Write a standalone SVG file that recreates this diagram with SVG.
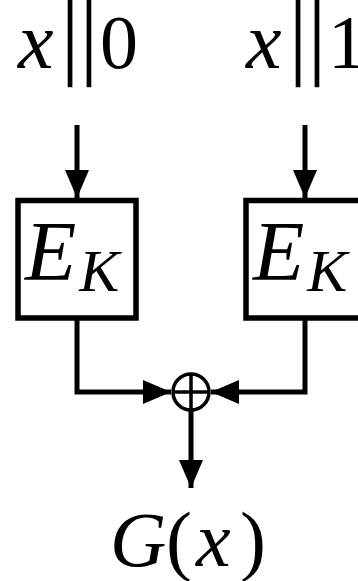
<svg xmlns="http://www.w3.org/2000/svg" width="358" height="581" viewBox="0 0 358 581">
<style>
.ln{fill:none;stroke:#000;stroke-width:5}
.box{fill:#fff;stroke:#000;stroke-width:5.5}
.t{font-family:"Liberation Serif","Times New Roman",serif;fill:#000}
.i{font-style:italic}
.bar{font-family:"DejaVu Serif",serif;fill:#000;stroke:#fff;stroke-width:3.6}
</style>
<defs>
<marker id="ah" markerUnits="userSpaceOnUse" markerWidth="30" markerHeight="26" refX="28" refY="12" orient="auto">
<path d="M0,0 L28,12 L0,24 Z" fill="#000"/>
</marker>
</defs>
<g id="label-x0">
<text class="t i" x="18" y="68" font-size="80">x</text>
<text class="bar" font-size="94" text-anchor="middle" transform="translate(79.5,67) scale(1.25,1)">‖</text>
<text class="t" x="100" y="68" font-size="76">0</text>
</g>
<g id="label-x1">
<text class="t i" x="246" y="68" font-size="80">x</text>
<text class="bar" font-size="94" text-anchor="middle" transform="translate(307.5,67) scale(1.25,1)">‖</text>
<text class="t" x="328" y="68" font-size="76">1</text>
</g>
<g id="connectors">
<line class="ln" x1="77" y1="125" x2="77" y2="198" marker-end="url(#ah)"/>
<line class="ln" x1="305" y1="125" x2="305" y2="198" marker-end="url(#ah)"/>
<polyline class="ln" points="77,318 77,392 171,392" marker-end="url(#ah)"/>
<polyline class="ln" points="305,318 305,392 211,392" marker-end="url(#ah)"/>
<line class="ln" x1="191" y1="392" x2="191" y2="488" marker-end="url(#ah)"/>
</g>
<g id="box-left">
<rect class="box" x="18" y="200.5" width="118" height="117.5"/>
<text class="t i" x="25" y="280" font-size="84">E<tspan font-size="60" dx="3" dy="11">K</tspan></text>
</g>
<g id="box-right">
<rect class="box" x="246" y="200.5" width="118" height="117.5"/>
<text class="t i" x="253" y="280" font-size="84">E<tspan font-size="60" dx="3" dy="11">K</tspan></text>
</g>
<g id="xor">
<circle cx="191" cy="392" r="18" fill="#fff" stroke="#000" stroke-width="3.5"/>
<line x1="173" y1="392" x2="209" y2="392" stroke="#000" stroke-width="3.5"/>
<line x1="191" y1="374" x2="191" y2="410" stroke="#000" stroke-width="3.5"/>
</g>
<g id="label-G">
<text class="t" y="566" font-size="78"><tspan class="i" x="110">G</tspan><tspan x="166">(</tspan><tspan class="i" x="196">x</tspan><tspan x="240">)</tspan></text>
</g>
</svg>
